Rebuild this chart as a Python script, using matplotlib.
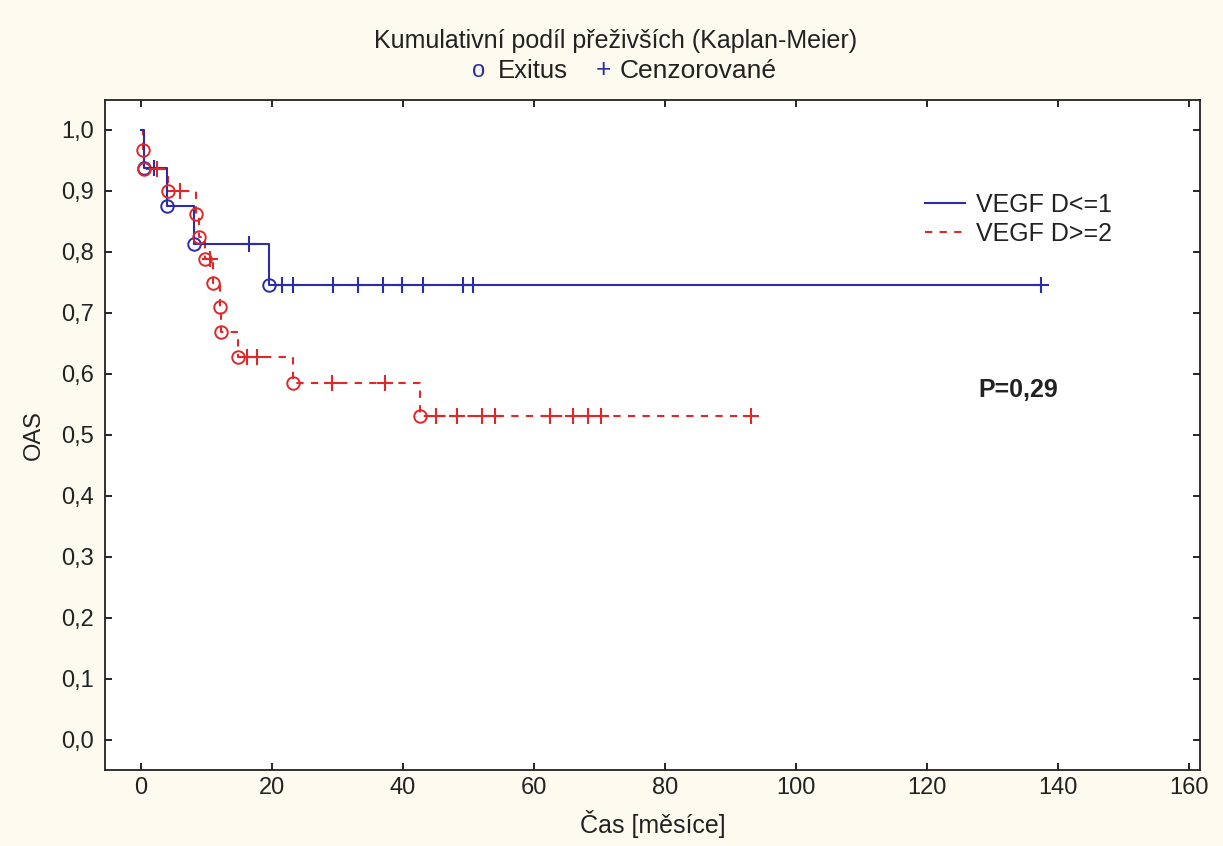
import matplotlib as mpl
import numpy as np
mpl.use('Agg')
import matplotlib.pyplot as plt

# group VEGF D<=1 : step times (drops) and survival after each drop
blue_t = [0, 0.4, 4.0, 8.1, 19.5]
blue_s = [1.0, 0.9375, 0.875, 0.8125, 0.745]
blue_cens = [2.0, 16.5, 21.5, 23.2, 29.3, 33.1, 36.9, 39.8, 43.1, 49.2, 50.7, 137.5]

# group VEGF D>=2
red_t = [0, 0.3, 0.5, 4.1, 8.4, 8.9, 9.8, 11.0, 12.0, 12.2, 14.8, 23.2, 42.6]
red_s = [1.0, 0.967, 0.935, 0.900, 0.862, 0.825, 0.788, 0.749, 0.710, 0.669, 0.628, 0.585, 0.531]
red_cens = [2.4, 6.0, 10.5, 16.2, 17.7, 29.2, 37.3, 45.1, 48.3, 52.0, 54.0,
            62.5, 66.0, 68.2, 70.2, 93.1]

xticks = [0, 20, 40, 60, 80, 100, 120, 140, 160]
yticks = [0.0, 0.1, 0.2, 0.3, 0.4, 0.5, 0.6, 0.7, 0.8, 0.9, 1.0]

BLUE = '#2c2ca6'
RED = '#e02828'
TXT = '#222222'
plt.rcParams['font.family'] = ['Liberation Sans', 'DejaVu Sans']


def surv_at(t_list, s_list, x):
    idx = np.searchsorted(np.array(t_list), np.array(x), side='right') - 1
    return np.array(s_list)[idx]


fig = plt.figure(figsize=(12.23, 8.46), dpi=100, facecolor='#fdfbf0')
ax = fig.add_axes([0.086, 0.090, 0.895, 0.792])
ax.set_facecolor('white')

# step lines
bt = blue_t + [max(blue_cens)]
bs = blue_s + [blue_s[-1]]
ax.step(bt, bs, where='post', color=BLUE, lw=1.5, label='VEGF D<=1', zorder=3)
rt = red_t + [max(red_cens)]
rs = red_s + [red_s[-1]]
ax.step(rt, rs, where='post', color=RED, lw=1.5, ls=(0, (3.5, 3.5)), label='VEGF D>=2', zorder=2)

# exitus markers
ax.plot(blue_t[1:], blue_s[1:], 'o', mfc='none', mec=BLUE, ms=9, mew=1.4, zorder=4)
ax.plot(red_t[1:], red_s[1:], 'o', mfc='none', mec=RED, ms=9, mew=1.4, zorder=4)
# censored markers
ax.plot(blue_cens, surv_at(blue_t, blue_s, blue_cens), '+', color=BLUE, ms=12, mew=1.5, zorder=4)
ax.plot(red_cens, surv_at(red_t, red_s, red_cens), '+', color=RED, ms=12, mew=1.5, zorder=4)

ax.set_xlim(-5.5, 161.7)
ax.set_ylim(-0.049, 1.049)
ax.set_xticks(xticks)
ax.set_yticks(yticks)
ax.set_yticklabels(['{:.1f}'.format(v).replace('.', ',') for v in yticks])
ax.tick_params(direction='in', top=True, right=True, labelsize=17, length=5, width=1.2,
               pad=8, labelcolor=TXT)
ax.tick_params(axis='x', pad=5)
for sp in ax.spines.values():
    sp.set_linewidth(1.3)
    sp.set_color(TXT)

ax.set_xlabel('Čas [měsíce]', fontsize=18, labelpad=8, color=TXT)
ax.set_ylabel('OAS', fontsize=17, labelpad=12, color=TXT)

leg = ax.legend(loc='upper left', bbox_to_anchor=(0.728, 0.895), frameon=False,
                fontsize=18, handlelength=1.6, handletextpad=0.45, labelspacing=0.2)
for t in leg.get_texts():
    t.set_color(TXT)

ax.text(0.834, 0.567, 'P=0,29', transform=ax.transAxes, fontsize=18,
        fontweight='bold', ha='center', va='center', color=TXT)

# title and marker legend on top
fig.text(0.503, 0.952, 'Kumulativní podíl přeživších (Kaplan-Meier)', fontsize=18,
         ha='center', va='center', color=TXT)
fig.text(0.391, 0.916, 'o', fontsize=17, color=BLUE, ha='center', va='center')
fig.text(0.407, 0.916, 'Exitus', fontsize=18.5, color=TXT, ha='left', va='center')
fig.text(0.493, 0.917, '+', fontsize=19, color=BLUE, ha='center', va='center')
fig.text(0.507, 0.916, 'Cenzorované', fontsize=19, color=TXT, ha='left', va='center')

plt.savefig('out.png', dpi=100, facecolor=fig.get_facecolor())
plt.close()
